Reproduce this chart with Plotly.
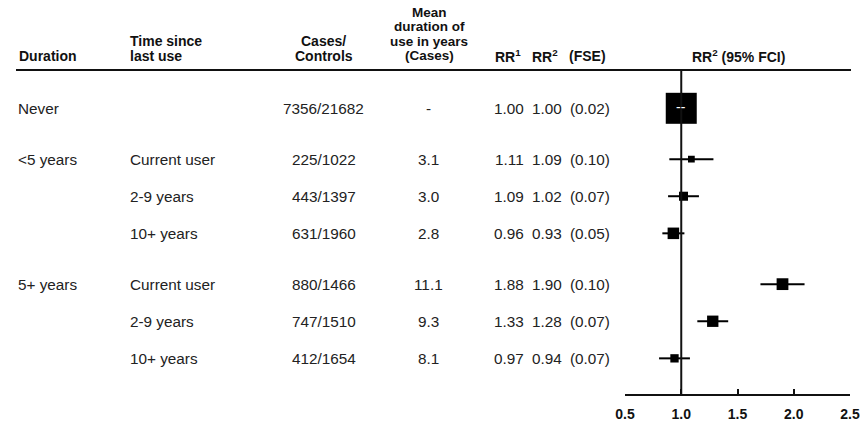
import plotly.graph_objects as go

# ---- data ----
duration = ["Never", "<5 years", "", "", "5+ years", "", ""]
time_since = ["", "Current user", "2-9 years", "10+ years", "Current user", "2-9 years", "10+ years"]
group = [0, 1, 1, 1, 2, 2, 2]
cases_controls = ["7356/21682", "225/1022", "443/1397", "631/1960", "880/1466", "747/1510", "412/1654"]
mean_duration = ["-", "3.1", "3.0", "2.8", "11.1", "9.3", "8.1"]
rr1 = [1.00, 1.11, 1.09, 0.96, 1.88, 1.33, 0.97]
rr2 = [1.00, 1.09, 1.02, 0.93, 1.90, 1.28, 0.94]
fse = [0.02, 0.10, 0.07, 0.05, 0.10, 0.07, 0.07]
x_ticks = [0.5, 1.0, 1.5, 2.0, 2.5]

# ---- layout helpers ----
W, H = 863, 424
FONT = "Liberation Sans, Arial, Helvetica, sans-serif"
GROUP_GAP = 0.37
pos = [i + GROUP_GAP * g for i, g in enumerate(group)]
ci = [1.96 * f for f in fse]
sizes = [0.62 * r / f for r, f in zip(rr2, fse)]

def px(x):
    return x / W

def py(y):
    return 1 - y / H

fig = go.Figure()
fig.add_trace(go.Scatter(
    x=rr2, y=pos, mode="markers",
    marker=dict(symbol="square", size=sizes, color="#000000", opacity=1, line=dict(width=0)),
    error_x=dict(type="data", array=ci, symmetric=True, width=0, thickness=2, color="#000000"),
    hoverinfo="skip", showlegend=False,
))

ann = []
def text(x, y, s, anchor="left", yref="paper", size=15.3, color="#222", bold=False):
    ann.append(dict(
        x=px(x), xref="paper", y=(py(y) if yref == "paper" else y), yref=yref,
        text=(f"<b>{s}</b>" if bold else s), showarrow=False,
        xanchor=anchor, yanchor="middle", borderpad=0,
        font=dict(family=FONT, size=size, color=color),
    ))

# headers
HB = "#111"
HS = 14
text(18, 56, "Duration", bold=True, color=HB, size=HS)
text(129, 41.5, "Time since", bold=True, color=HB, size=HS)
text(129, 56, "last use", bold=True, color=HB, size=HS)
text(323.5, 41.5, "Cases/", "center", bold=True, color=HB, size=HS)
text(323.5, 56, "Controls", "center", bold=True, color=HB, size=HS)
for yy, s in zip([12.5, 27, 41.5, 56], ["Mean", "duration of", "use in years", "(Cases)"]):
    text(429, yy, s, "center", bold=True, color=HB, size=13.5)
text(494, 56, "RR<sup>1</sup>", bold=True, color=HB, size=HS)
text(531, 56, "RR<sup>2</sup>", bold=True, color=HB, size=HS)
text(568, 56, "(FSE)", bold=True, color=HB, size=HS)
text(738, 56, "RR<sup>2</sup> (95% FCI)", "center", bold=True, color=HB, size=HS)

# body rows
for i, p in enumerate(pos):
    if duration[i]:
        text(17, p, duration[i], yref="y")
    if time_since[i]:
        text(129, p, time_since[i], yref="y")
    text(323.5, p, cases_controls[i], "center", yref="y")
    text(428, p, mean_duration[i], "center", yref="y")
    text(509.5, p, f"{rr1[i]:.2f}", "center", yref="y")
    text(547, p, f"{rr2[i]:.2f}", "center", yref="y")
    text(589.5, p, f"({fse[i]:.2f})", "center", yref="y")

# white dashes inside the reference square
ann.append(dict(x=1.0, xref="x", y=pos[0] - 0.04, yref="y", text="--", showarrow=False,
                font=dict(family=FONT, size=14, color="white"), xanchor="center", yanchor="middle"))

y_top_px, y_bot_px = 70, 394
row0_px, step_px = 108.3, 37.1
yr_top = (y_top_px - row0_px) / step_px
yr_bot = (y_bot_px - row0_px) / step_px

shapes = [
    dict(type="line", xref="paper", yref="paper", x0=px(16), x1=px(851), y0=py(70), y1=py(70),
         line=dict(color="#111", width=2)),
    dict(type="line", xref="x", yref="paper", x0=1.0, x1=1.0, y0=py(70), y1=py(394),
         line=dict(color="#111", width=2)),
]

fig.update_layout(
    width=W, height=H,
    margin=dict(l=0, r=0, t=0, b=0, autoexpand=False),
    paper_bgcolor="white", plot_bgcolor="white",
    annotations=ann, shapes=shapes,
    xaxis=dict(domain=[px(625), px(850)], range=[0.5, 2.5], tickvals=x_ticks,
               ticktext=[f"<b>{t:.1f}</b>" for t in x_ticks],
               showline=True, linecolor="#111", linewidth=2,
               ticks="inside", ticklen=5, tickwidth=2, tickcolor="#111",
               ticklabelstandoff=6,
               showgrid=False, zeroline=False, automargin=False,
               tickfont=dict(family=FONT, size=14, color="#111")),
    yaxis=dict(domain=[py(394), py(70)], range=[yr_bot, yr_top], visible=False,
               showgrid=False, zeroline=False, automargin=False),
)

fig.write_html(
    "out.html",
    config={"displayModeBar": False},
    post_script="document.body.style.margin='0';document.body.style.overflow='hidden';",
)
